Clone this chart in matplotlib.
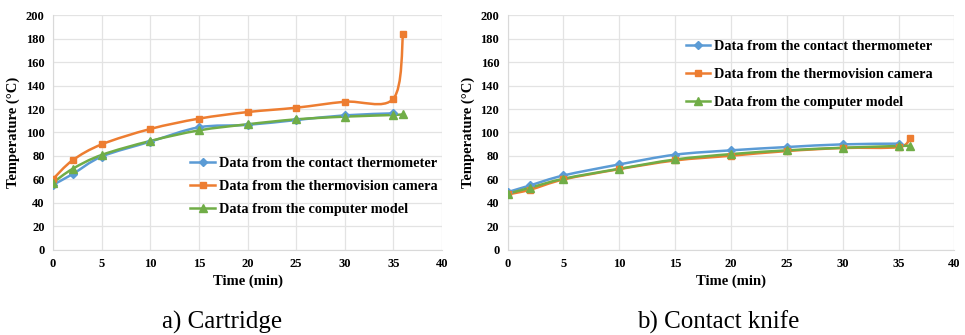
import matplotlib
matplotlib.use("Agg")
import matplotlib.pyplot as plt
from matplotlib.path import Path
from matplotlib.patches import PathPatch
from matplotlib.lines import Line2D

plt.rcParams['font.family'] = ['Liberation Serif', 'DejaVu Serif']

# data
time_a = [0, 2, 5, 10, 15, 20, 25, 30, 35, 36]
thermo_a = [55.5, 64.5, 79.5, 92.2, 104.4, 106.5, 110.6, 114.6, 116.3]
camera_a = [60.4, 76.3, 89.9, 103.0, 111.8, 117.4, 121.1, 126.2, 128.8, 183.8]
model_a = [57.3, 69.0, 80.9, 92.8, 101.8, 107.0, 111.2, 113.5, 114.9, 115.5]

time_b = [0, 2, 5, 10, 15, 20, 25, 30, 35, 36]
thermo_b = [49.2, 54.9, 63.4, 72.8, 81.1, 84.8, 87.6, 89.9, 90.5]
camera_b = [47.2, 51.2, 60.0, 68.8, 76.2, 80.2, 84.2, 86.8, 87.6, 95.3]
model_b = [47.8, 52.9, 60.6, 69.1, 77.0, 81.6, 84.8, 87.0, 88.5, 88.7]

labels = ["Data from the contact thermometer",
          "Data from the thermovision camera",
          "Data from the computer model"]
colors = ["#5B9BD5", "#ED7D31", "#70AD47"]
markers = ["D", "s", "^"]
msizes = [4.5, 5, 5.5]


#excel style smoothed line as bezier path
def smooth_path(x, y):
    pts = list(zip(x, y))
    n = len(pts)
    verts = [pts[0]]
    codes = [Path.MOVETO]
    for i in range(n - 1):
        p0 = pts[i - 1] if i > 0 else pts[i]
        p1 = pts[i]
        p2 = pts[i + 1]
        p3 = pts[i + 2] if i + 2 < n else pts[i + 1]
        c1 = (p1[0] + (p2[0] - p0[0]) / 6, p1[1] + (p2[1] - p0[1]) / 6)
        c2 = (p2[0] - (p3[0] - p1[0]) / 6, p2[1] - (p3[1] - p1[1]) / 6)
        verts += [c1, c2, p2]
        codes += [Path.CURVE4] * 3
    return Path(verts, codes)


def draw_panel(ax, t, series, legend_anchor, spacing):
    for k, vals in enumerate(series):
        tt = t[:len(vals)]
        ax.add_patch(PathPatch(smooth_path(tt, vals), fill=False,
                               edgecolor=colors[k], lw=1.8, zorder=3))
        ax.plot(tt, vals, linestyle="none", marker=markers[k], ms=msizes[k],
                color=colors[k], zorder=4)
    ax.set_xlim(0, 40)
    ax.set_ylim(0, 200)
    ax.set_xticks(range(0, 41, 5))
    ax.set_yticks(range(0, 201, 20))
    ax.grid(True, color="#e3e3e3", lw=0.9)
    ax.set_axisbelow(True)
    for s in ["top", "right"]:
        ax.spines[s].set_visible(False)
    for s in ["left", "bottom"]:
        ax.spines[s].set_color("#d9d9d9")
    ax.tick_params(length=0, labelsize=9, pad=6)
    for lab in ax.get_xticklabels() + ax.get_yticklabels():
        lab.set_fontweight("bold")
    ax.set_xlabel("Time (min)", fontsize=10.5, fontweight="bold", labelpad=3)
    ax.set_ylabel("Temperature (°C)", fontsize=10.5, fontweight="bold", labelpad=4)
    handles = [Line2D([], [], color=colors[k], lw=1.8, marker=markers[k],
                      ms=msizes[k]) for k in range(3)]
    leg = ax.legend(handles, labels, loc="upper left", bbox_to_anchor=legend_anchor,
                    frameon=False, handlelength=1.7, handletextpad=0.3,
                    labelspacing=spacing, prop={"size": 10.3, "weight": "bold"})
    return leg


fig = plt.figure(figsize=(9.65, 3.35), dpi=100)
ax1 = fig.add_axes([0.055, 0.254, 0.403, 0.701])
ax2 = fig.add_axes([0.526, 0.254, 0.463, 0.701])

draw_panel(ax1, time_a, [thermo_a, camera_a, model_a], (0.32, 0.45), 0.68)
draw_panel(ax2, time_b, [thermo_b, camera_b, model_b], (0.37, 0.95), 1.05)

fig.text(0.230, 0.018, "a) Cartridge", ha="center", va="baseline", fontsize=18)
fig.text(0.744, 0.018, "b) Contact knife", ha="center", va="baseline", fontsize=18)

fig.savefig("out.png", dpi=100)
